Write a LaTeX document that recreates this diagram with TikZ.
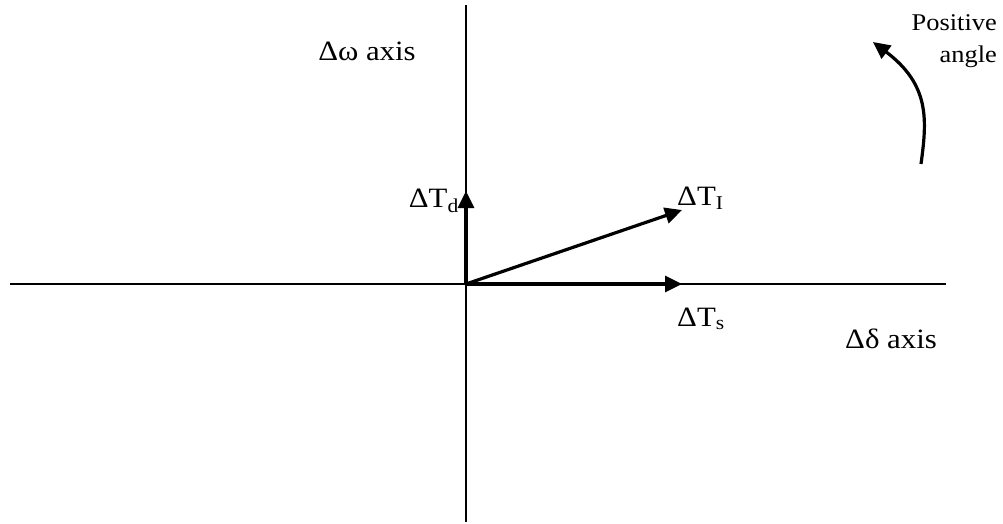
\documentclass[tikz,border=0pt]{standalone}
\usepackage{fontspec}
\setmainfont{Liberation Serif}[FakeStretch=1.1]
\usetikzlibrary{arrows.meta}
\begin{document}
\begin{tikzpicture}[x=1pt,y=-1pt,
  axis/.style={line width=1.4pt},
  tip/.style={-{Triangle[length=17pt,width=16pt]}},
  vec/.style={line width=3.2pt,tip},
  lbl/.style={font=\fontsize{28}{32}\selectfont,inner sep=0pt},
  small/.style={font=\fontsize{24}{32}\selectfont,inner sep=0pt,align=right}]
\useasboundingbox (0,0) rectangle (1003,523);
\coordinate (O) at (466,284);
\coordinate (top) at (466,5);
\coordinate (bot) at (466,522);
\coordinate (left) at (10,284);
\coordinate (right) at (946,284);
\draw[axis] (top) -- (bot);
\draw[axis] (left) -- (right);
\coordinate (Ts) at (682,284);
\coordinate (Td) at (466,191);
\coordinate (TI) at (682,210);
\draw[vec] (O) -- (Ts);
\draw[vec] (O) -- (Td);
\draw[vec] (O) -- (TI);
\node[lbl,anchor=base east] (lTd) at (459,207) {ΔT\textsubscript{d}};
\node[lbl,anchor=base west] (lTI) at (677,205) {ΔT\textsubscript{I}};
\node[lbl,anchor=base west] (lTs) at (677,326) {ΔT\textsubscript{s}};
\node[lbl,anchor=base] (lw) at (367,60) {Δω axis};
\node[lbl,anchor=base] (ld) at (891,348) {Δδ axis};
\node[small,anchor=base east] (pa) at (997,62) {Positive\\angle};
\coordinate (cs) at (921,164);
\coordinate (ce) at (873,42);
\draw[line width=3.2pt,tip] (cs) .. controls (927,120) and (930,85) .. (ce);
\end{tikzpicture}
\end{document}
